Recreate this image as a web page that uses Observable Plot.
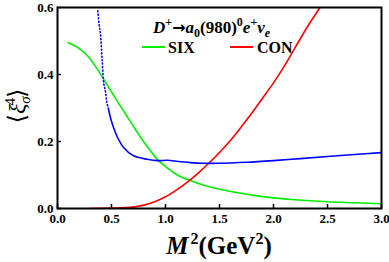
<!DOCTYPE html>
<html><head><meta charset="utf-8">
<script src="https://cdn.jsdelivr.net/npm/d3@7"></script>
<script src="https://cdn.jsdelivr.net/npm/@observablehq/plot@0.6"></script>
<style>body{margin:0;background:#fff;overflow:hidden} svg text{font-family:"Liberation Serif","DejaVu Serif",serif}</style>
</head><body><div id="chart"></div>
<script>
const xTicks = [0, 0.5, 1.0, 1.5, 2.0, 2.5, 3.0];
const yTicks = [0, 0.2, 0.4, 0.6];
const seriesNames = ["SIX", "CON"];
const seriesColors = ["#00ee00", "#ff0000"];

const sixX = [0.1, 0.2, 0.28, 0.35, 0.435, 0.5, 0.55, 0.61, 0.65, 0.77, 0.85, 0.935, 1.0, 1.11, 1.26, 1.32, 1.49, 1.63, 1.8, 1.94, 2.2, 2.5, 2.75, 3.0];
const sixY = [0.495, 0.478, 0.455, 0.425, 0.382, 0.348, 0.322, 0.292, 0.272, 0.212, 0.177, 0.143, 0.125, 0.1, 0.08, 0.073, 0.058, 0.049, 0.04, 0.034, 0.026, 0.02, 0.017, 0.014];

const conX = [0.3, 0.5, 0.7, 0.8, 0.9, 1.0, 1.1, 1.2, 1.3, 1.4, 1.5, 1.6, 1.7, 1.8, 1.9, 2.0, 2.1, 2.2, 2.3, 2.43];
const conY = [0.0, 0.001, 0.004, 0.01, 0.02, 0.035, 0.055, 0.078, 0.105, 0.135, 0.167, 0.203, 0.243, 0.285, 0.33, 0.375, 0.425, 0.48, 0.535, 0.6];

const xiDotX = [0.373, 0.385, 0.398, 0.414, 0.429, 0.444, 0.455, 0.47];
const xiDotY = [0.59, 0.55, 0.52, 0.44, 0.372, 0.35, 0.32, 0.30];
const xiX = [0.47, 0.49, 0.51, 0.556, 0.61, 0.70, 0.83, 0.935, 1.02, 1.1, 1.23, 1.35, 1.5, 1.75, 2.0, 2.25, 2.5, 2.75, 3.0];
const xiY = [0.30, 0.272, 0.25, 0.212, 0.183, 0.158, 0.147, 0.143, 0.144, 0.141, 0.137, 0.135, 0.135, 0.138, 0.143, 0.149, 0.155, 0.161, 0.167];

const zip = (xs, ys) => xs.map((x, i) => ({x, y: ys[i]}));
const six = zip(sixX, sixY), con = zip(conX, conY);
const xiDot = zip(xiDotX, xiDotY), xi = zip(xiX, xiY);

const serif = "Liberation Serif, DejaVu Serif, serif";
const svg = Plot.plot({
  width: 389, height: 262,
  marginLeft: 57, marginRight: 8, marginTop: 7, marginBottom: 54,
  style: {fontFamily: serif, fontWeight: "bold", background: "#fff", color: "#000"},
  x: {domain: [0, 3]},
  y: {domain: [0, 0.6]},
  marks: [
    Plot.line(six, {x: "x", y: "y", stroke: seriesColors[0], strokeWidth: 1.6, curve: "monotone-x", clip: true}),
    Plot.line(con, {x: "x", y: "y", stroke: seriesColors[1], strokeWidth: 1.6, curve: "monotone-x", clip: true}),
    Plot.line(xiDot, {x: "x", y: "y", stroke: "#0000ff", strokeWidth: 1.6, strokeDasharray: "1,2.5", curve: "catmull-rom", clip: true}),
    Plot.line(xi, {x: "x", y: "y", stroke: "#0000ff", strokeWidth: 1.6, curve: "catmull-rom", clip: true}),
    Plot.axisX({ticks: xTicks, tickSize: -4, tickPadding: 9, tickFormat: d3.format(".1f"), fontSize: 13, fontWeight: "bold", strokeWidth: 1.5, label: null}),
    Plot.axisY({ticks: yTicks, tickSize: -4, tickPadding: 8, tickFormat: d3.format(".1f"), fontSize: 13, fontWeight: "bold", strokeWidth: 1.5, label: null}),
    Plot.frame({stroke: "#000", strokeWidth: 2})
  ]
});

const s = d3.select(svg);
// legend
const leg = [{x1: 142, x2: 165, tx: 168}, {x1: 230, x2: 253, tx: 257}];
leg.forEach((l, i) => {
  s.append("line").attr("x1", l.x1).attr("x2", l.x2).attr("y1", 47).attr("y2", 47)
    .attr("stroke", seriesColors[i]).attr("stroke-width", 2);
  s.append("text").attr("x", l.tx).attr("y", 53).attr("text-anchor", "start").attr("font-size", 16).attr("font-weight", "bold")
    .text(seriesNames[i]);
});
// title
const t = s.append("text").attr("x", 153).attr("y", 33).attr("text-anchor", "start").attr("font-size", 17).attr("font-weight", "bold");
t.append("tspan").attr("font-style", "italic").text("D");
t.append("tspan").attr("dy", -7).attr("font-size", 12).text("+");
t.append("tspan").attr("dy", 7).attr("font-size", 16).style("font-family", "DejaVu Sans").text("→");
t.append("tspan").attr("font-style", "italic").text("a");
t.append("tspan").attr("dy", 4).attr("font-size", 12).text("0");
t.append("tspan").attr("dy", -4).text("(980)");
t.append("tspan").attr("dy", -7).attr("font-size", 12).text("0");
t.append("tspan").attr("dy", 7).attr("font-style", "italic").text("e");
t.append("tspan").attr("dy", -7).attr("font-size", 12).text("+");
t.append("tspan").attr("dy", 7).attr("font-style", "italic").text("ν");
t.append("tspan").attr("dy", 4).attr("font-size", 12).attr("font-style", "italic").text("e");
// x title
const xt = s.append("text").attr("x", 219).attr("y", 254).attr("text-anchor", "middle").attr("font-size", 25).attr("font-weight", "bold");
xt.append("tspan").attr("font-style", "italic").text("M");
xt.append("tspan").attr("dy", -10).attr("font-size", 16).attr("dx", 2).text("2");
xt.append("tspan").attr("dy", 10).text("(GeV");
xt.append("tspan").attr("dy", -10).attr("font-size", 16).text("2");
xt.append("tspan").attr("dy", 10).text(")");
// y title
const yt = s.append("text").attr("transform", "translate(25,106) rotate(-90)").attr("text-anchor", "middle").attr("font-size", 24).attr("font-weight", "normal");
yt.append("tspan").text("⟨");
yt.append("tspan").attr("font-style", "italic").text("ξ");
yt.append("tspan").attr("dy", 5).attr("font-size", 15).attr("font-style", "italic").text("σ");
yt.append("tspan").attr("dy", -15).attr("dx", -9).attr("font-size", 15).text("4");
yt.append("tspan").attr("dy", 10).text("⟩");

document.getElementById("chart").appendChild(svg);
</script></body></html>
